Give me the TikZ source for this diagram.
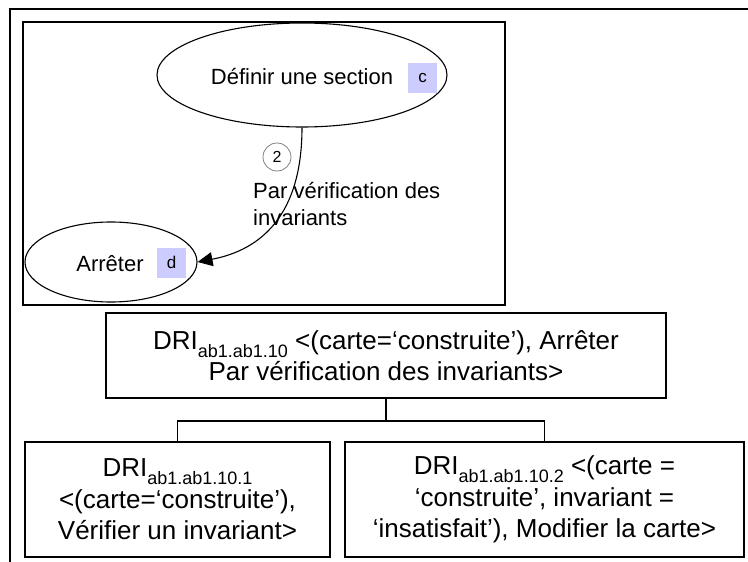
\documentclass[tikz,border=0pt]{standalone}
\usepackage{fontspec}
\setmainfont{Liberation Sans}
\usetikzlibrary{arrows.meta,positioning,shapes.geometric}
\definecolor{tagfill}{RGB}{204,204,255}
\definecolor{numgray}{RGB}{128,128,128}
\newcommand{\drisub}[1]{\raisebox{-0.31em}{\fontsize{18}{18}\selectfont #1}}
\tikzset{
  goal/.style={ellipse,draw,line width=1.1pt,inner sep=0pt},
  tagbox/.style={rectangle,fill=tagfill,minimum width=29pt,minimum height=30pt,inner sep=0pt,font=\fontsize{17}{17}\selectfont},
  stepnum/.style={circle,draw=numgray,line width=0.8pt,minimum size=28pt,inner sep=0pt,font=\fontsize{16}{16}\selectfont},
  drinode/.style={rectangle,draw,line width=1.5pt,align=center,inner sep=0pt,font=\fontsize{26}{31.5}\selectfont},
  ordinary/.style={line width=1.5pt},
  strategyedge/.style={-{Triangle[length=15pt,width=14pt]},line width=1.1pt}
}
\begin{document}
\begin{tikzpicture}[x=1pt,y=-1pt,every node/.style={font=\fontsize{22}{26}\selectfont}]
\useasboundingbox (0,0) rectangle (748,562);
% frames
\draw[ordinary] (10,562) -- (10,9) -- (748,9);
\draw[ordinary] (23,22) rectangle (505,305);
% goals of the map
\node[goal,minimum width=290pt,minimum height=104pt] (defsec) at (302,75) {};
\node (defsectxt) at (302,77) {Définir une section};
\node[tagbox] (tagc) at (422.5,78) {c};
\node[goal,minimum width=172pt,minimum height=80pt] (arret) at (111,262) {};
\node (arrettxt) at (110,264) {Arrêter};
\node[tagbox] (tagd) at (171.5,262.5) {d};
\draw[strategyedge] (defsec.south) .. controls +(0,88) and +(63,-12) .. (arret.east);
\node[stepnum] (num) at (277,157) {2};
\node[anchor=base west,inner sep=0pt] (strlabel) at (253,198) {Par vérification des};
\node[anchor=base west,inner sep=0pt] (strlabelb) at (253,225) {invariants};
% DRI tree
\node[drinode,minimum width=560pt,minimum height=85pt] (dri) at (386,355.5)
  {DRI\drisub{ab1.ab1.10} <(carte=‘construite’), Arrêter\\Par vérification des invariants>};
\node[drinode,minimum width=305pt,minimum height=115pt] (drione) at (177.5,499.5)
  {DRI\drisub{ab1.ab1.10.1}\\<(carte=‘construite’),\\Vérifier un invariant>};
\node[drinode,minimum width=399pt,minimum height=115pt] (dritwo) at (544.5,499.5)
  {DRI\drisub{ab1.ab1.10.2} <(carte =\\‘construite’, invariant =\\‘insatisfait’), Modifier la carte>};
\draw[ordinary] (dri.south) -- ++(0,22) coordinate (fork);
\draw[ordinary] (drione.north) |- (fork) -| (dritwo.north);
\end{tikzpicture}
\end{document}
